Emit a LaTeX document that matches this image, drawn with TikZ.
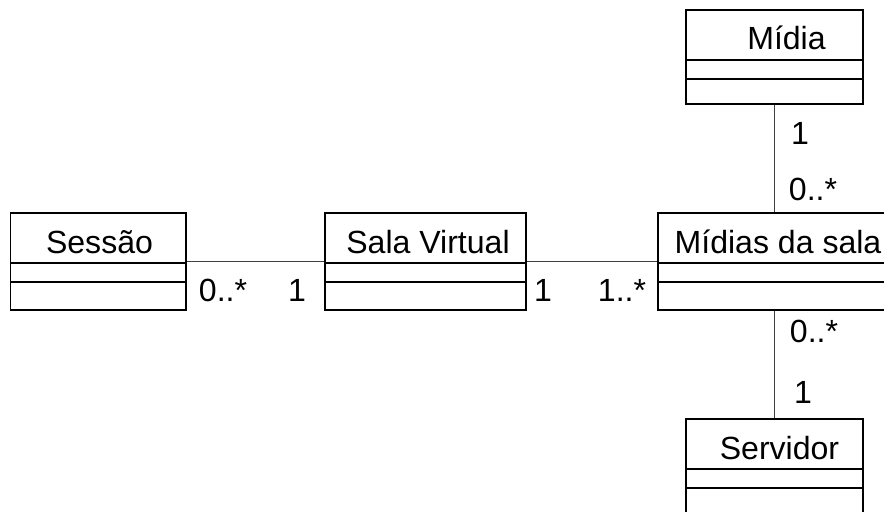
\documentclass[tikz,border=0pt]{standalone}
\usepackage{fontspec}
\setmainfont{Liberation Sans}
\usepackage{tikz}
\usetikzlibrary{positioning, calc, fit}

% one class box: name, left, top, right, bottom, title x, title
\newcommand{\umlclass}[7]{%
  \node[classbox, fit={(#2,#3) (#4,#5)}] (#1) {};
  \draw[classline] (#2,#3+50) -- (#4,#3+50);
  \draw[classline] (#2,#3+69) -- (#4,#3+69);
  \node[classname] (#1-name) at (#6,#3+40) {#7};
}

\begin{document}
\begin{tikzpicture}[x=0.025cm, y=-0.025cm,
    classbox/.style={draw, line width=0.8pt, inner sep=0pt},
    classline/.style={line width=0.8pt},
    classname/.style={anchor=base, inner sep=0pt, font=\fontsize{22.8}{26}\selectfont},
    mult/.style={anchor=base, inner sep=0pt, font=\fontsize{22.8}{26}\selectfont},
    assoc/.style={black!75, line width=0.6pt}]
  \clip (0,0) rectangle (884,512);

  % Classes
  \umlclass{ses}{10.5}{213}{186}{310}{99.5}{Sessão}
  \umlclass{sala}{325}{213}{526}{310}{428}{Sala Virtual}
  \umlclass{mids}{658}{213}{890}{310}{778}{Mídias da sala}
  \umlclass{midia}{686}{10}{863}{104}{786.5}{Mídia}
  \umlclass{serv}{686}{419}{863}{513}{779.5}{Servidor}

  % Associations
  \draw[assoc] (ses.east) -- (sala.west);
  \draw[assoc] (sala.east) -- (mids.west);
  \draw[assoc] (midia.south) -- (midia.south |- mids.north);
  \draw[assoc] (serv.north |- mids.south) -- (serv.north);

  % Multiplicities
  \node[mult] (m-ses) at (223,302) {0..*};
  \node[mult] (m-sala1) at (297,302) {1};
  \node[mult] (m-sala2) at (543,302) {1};
  \node[mult] (m-mids1) at (622,302) {1..*};
  \node[mult] (m-midia) at (800,145) {1};
  \node[mult] (m-mids2) at (813,201) {0..*};
  \node[mult] (m-mids3) at (814,343) {0..*};
  \node[mult] (m-serv) at (803,403) {1};
\end{tikzpicture}
\end{document}
